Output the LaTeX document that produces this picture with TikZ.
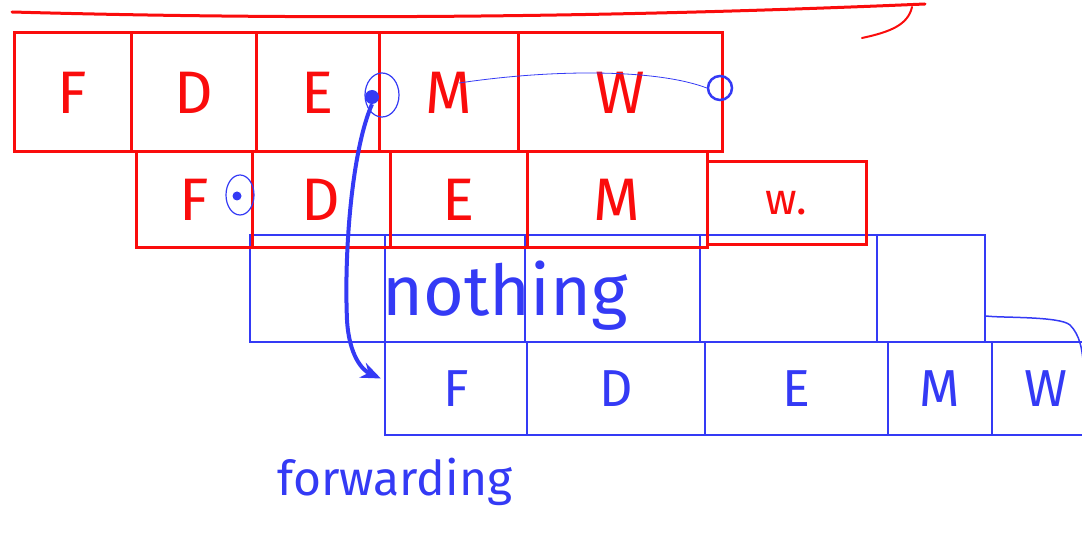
\documentclass[tikz,border=0pt]{standalone}
\usepackage{fontspec}
\setmainfont{Fira Sans}
\usetikzlibrary{shapes.geometric,arrows.meta}
\definecolor{pr}{RGB}{250,12,12}
\definecolor{pb}{RGB}{52,58,245}
\tikzset{
  redcell/.style={draw=pr, text=pr, line width=3pt, inner sep=0pt, font=\fontsize{60}{60}\selectfont},
  bluecell/.style={draw=pb, text=pb, line width=2.2pt, inner sep=0pt, font=\fontsize{52}{52}\selectfont},
  redline/.style={draw=pr, line width=3pt, line cap=round},
  bluemark/.style={draw=pb, line width=1.2pt},
  bluetext/.style={text=pb, inner sep=0pt},
}
\begin{document}
\begin{tikzpicture}[x=1pt,y=-1pt]
\useasboundingbox (0,0) rectangle (1082,537);
% ---- blue row 3 (stall)
\node[bluecell, minimum width=135, minimum height=107] (r3a) at (317.5,288.5) {};
\node[bluecell, minimum width=140, minimum height=107] (r3b) at (455,288.5) {};
\node[bluecell, minimum width=175, minimum height=107] (r3c) at (612.5,288.5) {};
\node[bluecell, minimum width=177, minimum height=107] (r3d) at (788.5,288.5) {};
\node[bluecell, minimum width=108, minimum height=107] (r3e) at (931,288.5) {};
% ---- blue row 4
\node[bluecell, minimum width=142, minimum height=93] (r4f) at (456,388.5) {F};
\node[bluecell, minimum width=178, minimum height=93] (r4d) at (616,388.5) {D};
\node[bluecell, minimum width=183, minimum height=93] (r4e) at (796.5,388.5) {E};
\node[bluecell, minimum width=104, minimum height=93] (r4m) at (940,388.5) {M};
\node[bluecell, minimum width=108, minimum height=93] (r4w) at (1046,388.5) {W};
\draw[pb, line width=1.5pt, line cap=round] (r3e.east |- 0,316) .. controls (1000,318) and (1060,316) .. (1070,325) .. controls (1080,335) and (1082,350) .. (1083,360);
% ---- red row 2
\node[redcell, minimum width=116, minimum height=96] (r2f) at (194,200) {F};
\node[redcell, minimum width=138, minimum height=96] (r2d) at (321,200) {D};
\node[redcell, minimum width=137, minimum height=96] (r2e) at (458.5,200) {E};
\node[redcell, minimum width=180, minimum height=96] (r2m) at (617,200) {M};
\node[redcell, minimum width=159, minimum height=83, font=\fontsize{44}{44}\selectfont] (r2w) at (786.5,203.5) {w.};
% ---- red row 1
\node[redcell, minimum width=117, minimum height=119] (r1f) at (72.5,92.5) {F};
\node[redcell, minimum width=125, minimum height=119] (r1d) at (193.5,92.5) {D};
\node[redcell, minimum width=123, minimum height=119] (r1e) at (317.5,92.5) {E};
\node[redcell, minimum width=139, minimum height=119] (r1m) at (448.5,92.5) {M};
\node[redcell, minimum width=204, minimum height=119] (r1w) at (620,92.5) {W};
% ---- top red stroke
\draw[redline] (12,12) .. controls (300,20) and (600,18) .. (925,4);
\draw[pr, line width=2pt, line cap=round] (912,7) .. controls (908,25) and (890,32) .. (862,38);
% ---- blue marks
\node[ellipse, bluemark, minimum width=34, minimum height=44] (ecirc) at (382,95) {};
\node[circle, fill=pb, minimum size=14, inner sep=0pt] (edot) at (372,97) {};
\node[ellipse, bluemark, minimum width=28, minimum height=40] (fcirc) at (240,195) {};
\node[circle, fill=pb, minimum size=9, inner sep=0pt] (fdot) at (237,196) {};
\node[circle, draw=pb, line width=2.5pt, minimum size=24, inner sep=0pt] (wcirc) at (720,88) {};
\coordinate (lstart) at (459,83);
\draw[pb, line width=0.8pt] (lstart) .. controls (560,68) and (660,70) .. (wcirc.west);
% ---- forwarding arrow
\draw[pb, line width=4pt, -{Stealth[length=20pt,width=16pt]}] (edot.south) .. controls (352,150) and (344,250) .. (347,320) .. controls (349,355) and (362,370) .. ([xshift=-3pt,yshift=10pt]r4f.west);
% ---- texts
\node[bluetext, font=\fontsize{70}{70}\selectfont] (nothing) at (505,296) {nothing};
\node[bluetext, font=\fontsize{48}{48}\selectfont] (fwd) at (395,482) {forwarding};
\end{tikzpicture}
\end{document}
